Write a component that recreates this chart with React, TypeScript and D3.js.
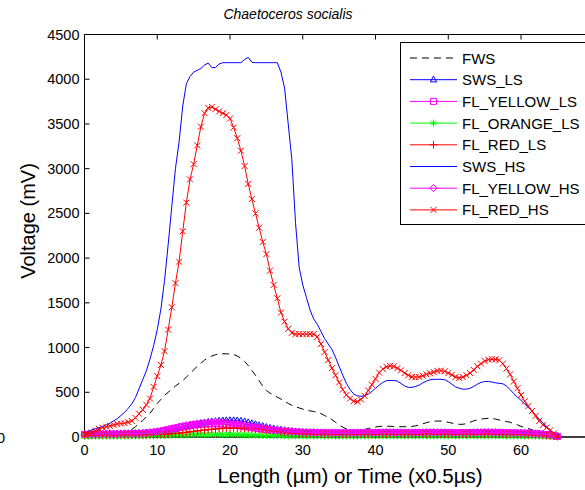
import React from 'react';
import * as d3 from 'd3';

// Sample positions along the particle (µm), every 0.5
const lengths: number[] = d3.range(0, 65.25, 0.5);

const xTickValues = [0, 10, 20, 30, 40, 50, 60, 70];
const xTickLabels = ['0', '10', '20', '30', '40', '50', '60', ''];
const yTickValues = [0, 500, 1000, 1500, 2000, 2500, 3000, 3500, 4000, 4500];
const titleText = 'Chaetoceros socialis';
const xLabel = 'Length (µm) or Time (x0.5µs)';
const yLabel = 'Voltage (mV)';

const FWS = [
  0, 5, 10, 12, 15, 18, 20, 25, 30,
  38, 45, 55, 65, 85, 115, 150, 185,
  225, 265, 320, 375, 420, 465, 500, 535,
  570, 600, 630, 670, 710, 750, 790, 825,
  860, 885, 905, 920, 928, 930, 930, 928,
  922, 905, 880, 845, 800, 745, 690, 630,
  570, 520, 490, 470, 445, 425, 400, 375,
  355, 338, 325, 312, 300, 292, 285, 278,
  262, 240, 220, 195, 165, 135, 110, 90,
  80, 75, 75, 78, 85, 95, 105, 112,
  118, 120, 120, 120, 118, 116, 115, 115,
  115, 118, 125, 135, 148, 160, 170, 176,
  179, 178, 172, 165, 155, 148, 142, 142,
  150, 165, 180, 192, 200, 206, 209, 208,
  200, 190, 180, 172, 165, 150, 135, 120,
  105, 95, 80, 65, 50, 38, 28, 18,
  10, 5,
];

const SWS_LS = [
  30, 32, 34, 35, 36, 36, 37, 37, 38,
  38, 39, 40, 40, 41, 42, 44, 46,
  48, 50, 53, 56, 60, 65, 72, 80,
  88, 97, 106, 115, 124, 133, 142, 150,
  158, 165, 171, 176, 180, 183, 185, 186,
  185, 183, 179, 172, 163, 152, 141, 130,
  120, 110, 101, 93, 86, 80, 74, 69,
  65, 61, 58, 56, 54, 53, 52, 51,
  50, 50, 49, 49, 48, 48, 48, 48,
  47, 47, 47, 48, 48, 49, 50, 50,
  51, 51, 52, 52, 52, 51, 51, 50,
  50, 50, 50, 51, 51, 52, 52, 52,
  52, 51, 51, 50, 50, 49, 49, 49,
  50, 50, 51, 52, 52, 53, 53, 52,
  52, 51, 50, 49, 48, 47, 46, 45,
  44, 43, 41, 39, 36, 32, 27, 22,
  15, 8,
];

const FL_YELLOW_LS = [
  25, 26, 27, 28, 28, 29, 29, 30, 30,
  31, 31, 32, 33, 34, 35, 37, 39,
  42, 46, 51, 57, 64, 72, 81, 90,
  99, 107, 115, 122, 128, 134, 138, 142,
  145, 147, 148, 148, 147, 145, 142, 138,
  134, 129, 124, 118, 112, 106, 100, 94,
  88, 83, 78, 73, 69, 65, 62, 59,
  56, 54, 52, 50, 49, 48, 47, 46,
  46, 45, 45, 45, 44, 44, 44, 44,
  44, 44, 45, 45, 46, 46, 47, 47,
  48, 48, 48, 48, 47, 47, 46, 46,
  46, 46, 47, 47, 48, 48, 49, 49,
  49, 48, 48, 47, 47, 46, 46, 46,
  47, 47, 48, 49, 49, 50, 50, 49,
  49, 48, 47, 46, 45, 44, 43, 42,
  41, 40, 38, 36, 33, 29, 25, 20,
  14, 7,
];

const FL_ORANGE_LS = [
  8, 8, 9, 9, 9, 10, 10, 10, 10,
  10, 10, 11, 11, 11, 12, 12, 13,
  13, 14, 15, 16, 17, 18, 19, 20,
  21, 22, 23, 24, 25, 25, 26, 26,
  27, 27, 27, 27, 27, 27, 26, 26,
  25, 25, 24, 23, 22, 21, 20, 19,
  18, 17, 16, 15, 15, 14, 14, 13,
  13, 13, 12, 12, 12, 12, 12, 12,
  12, 12, 12, 12, 12, 12, 12, 12,
  12, 12, 12, 12, 12, 13, 13, 13,
  13, 13, 13, 13, 13, 13, 13, 13,
  13, 13, 13, 13, 13, 13, 13, 13,
  13, 13, 13, 13, 13, 13, 13, 13,
  13, 13, 13, 13, 13, 13, 13, 13,
  13, 13, 12, 12, 12, 12, 12, 12,
  11, 11, 11, 10, 10, 9, 8, 7,
  6, 5,
];

const FL_RED_LS = [
  20, 20, 21, 21, 21, 22, 22, 22, 22,
  22, 23, 23, 23, 23, 24, 24, 24,
  25, 25, 26, 27, 28, 30, 33, 36,
  40, 44, 48, 53, 58, 63, 68, 73,
  78, 82, 86, 90, 93, 96, 98, 99,
  100, 100, 99, 98, 96, 93, 90, 86,
  82, 77, 72, 67, 62, 57, 52, 48,
  44, 41, 38, 36, 34, 33, 32, 31,
  30, 30, 29, 29, 29, 28, 28, 28,
  28, 28, 28, 29, 29, 29, 30, 30,
  30, 30, 30, 30, 30, 30, 30, 30,
  30, 30, 30, 30, 31, 31, 31, 31,
  31, 31, 31, 30, 30, 30, 30, 30,
  30, 31, 31, 31, 32, 32, 32, 32,
  32, 31, 31, 30, 30, 29, 29, 28,
  27, 26, 25, 23, 21, 18, 15, 12,
  9, 5,
];

const SWS_HS = [
  40, 60, 80, 95, 105, 120, 135, 155, 180,
  205, 240, 275, 320, 370, 440, 540, 640,
  740, 870, 1020, 1200, 1430, 1750, 2150, 2580,
  3000, 3300, 3700, 3950, 4030, 4080, 4100, 4120,
  4160, 4180, 4130, 4130, 4170, 4185, 4185, 4185,
  4185, 4185, 4185, 4220, 4245, 4190, 4185, 4185,
  4185, 4185, 4185, 4185, 4185, 4080, 3900, 3500,
  3100, 2400, 1900, 1700, 1560, 1420, 1320, 1260,
  1180, 1100, 1040, 980, 890, 790, 690, 600,
  530, 480, 460, 455, 460, 480, 510, 545,
  580, 610, 630, 632, 632, 625, 600, 570,
  555, 555, 565, 580, 605, 625, 640, 645,
  645, 645, 640, 620, 590, 560, 545, 535,
  535, 545, 565, 590, 610, 620, 620, 615,
  605, 600, 595, 570, 530, 485, 445, 410,
  370, 330, 290, 245, 200, 160, 120, 80,
  40, 10,
];

const FL_YELLOW_HS = [
  30, 31, 32, 33, 33, 34, 34, 35, 35,
  36, 36, 37, 38, 39, 40, 42, 44,
  47, 51, 56, 62, 69, 77, 86, 96,
  106, 115, 124, 132, 139, 146, 152, 157,
  161, 164, 166, 166, 165, 163, 160, 156,
  151, 146, 140, 134, 127, 120, 113, 106,
  99, 93, 87, 81, 76, 71, 67, 63,
  60, 57, 55, 53, 51, 50, 49, 48,
  48, 47, 47, 47, 46, 46, 46, 46,
  46, 46, 47, 47, 48, 48, 49, 49,
  50, 50, 50, 50, 49, 49, 48, 48,
  48, 48, 49, 49, 50, 50, 51, 51,
  51, 50, 50, 49, 49, 48, 48, 48,
  49, 49, 50, 51, 51, 52, 52, 51,
  51, 50, 49, 48, 47, 46, 45, 44,
  43, 42, 40, 38, 35, 31, 27, 22,
  16, 9,
];

const FL_RED_HS = [
  30, 40, 50, 70, 90, 105, 115, 125, 135,
  145, 150, 155, 165, 180, 215, 260, 305,
  360, 430, 560, 680, 805, 960, 1200, 1450,
  1720, 1960, 2300, 2620, 2880, 3050, 3260, 3470,
  3620, 3680, 3690, 3665, 3640, 3620, 3600, 3560,
  3460, 3340, 3200, 3030, 2830, 2660, 2500, 2340,
  2180, 2045, 1860, 1700, 1550, 1390, 1290, 1210,
  1165, 1150, 1150, 1150, 1150, 1150, 1150, 1120,
  1040, 950, 860, 770, 690, 610, 530, 470,
  430, 400, 395, 420, 460, 520, 585, 650,
  720, 760, 785, 795, 790, 770, 745, 715,
  690, 672, 670, 672, 685, 700, 712, 725,
  738, 742, 735, 715, 695, 670, 660, 670,
  690, 715, 750, 790, 820, 850, 865, 870,
  868, 858, 820, 765, 700, 620, 545, 470,
  400, 345, 290, 235, 180, 135, 105, 75,
  40, 5,
];

type Marker = 'none' | 'triangle' | 'square' | 'asterisk' | 'plus' | 'diamond' | 'x';

const seriesNames = ['FWS', 'SWS_LS', 'FL_YELLOW_LS', 'FL_ORANGE_LS', 'FL_RED_LS', 'SWS_HS', 'FL_YELLOW_HS', 'FL_RED_HS'];
const seriesValues = [FWS, SWS_LS, FL_YELLOW_LS, FL_ORANGE_LS, FL_RED_LS, SWS_HS, FL_YELLOW_HS, FL_RED_HS];
const seriesColors = ['#000000', '#0000ff', '#ff00ff', '#00ff00', '#ff0000', '#0000ff', '#ff00ff', '#ff0000'];
const seriesMarkers: Marker[] = ['none', 'triangle', 'square', 'asterisk', 'plus', 'none', 'diamond', 'x'];
const seriesDashed = [true, false, false, false, false, false, false, false];

const W = 585;
const H = 490;
const plotLeft = 84.5;
const plotTop = 34.5;
const plotBottom = 437;
const plotRight = 593.8;

const FONT = "Arial, 'Liberation Sans', Helvetica, sans-serif";

function markerPath(m: Marker): string {
  switch (m) {
    case 'triangle':
      return 'M0,-3.6L3.2,2.2L-3.2,2.2Z';
    case 'square':
      return 'M-3,-3H3V3H-3Z';
    case 'asterisk':
      return 'M-3.5,0H3.5M0,-3.5V3.5M-2.5,-2.5L2.5,2.5M-2.5,2.5L2.5,-2.5';
    case 'plus':
      return 'M-3.8,0H3.8M0,-3.8V3.8';
    case 'diamond':
      return 'M0,-3.6L3.6,0L0,3.6L-3.6,0Z';
    case 'x':
      return 'M-3,-3L3,3M-3,3L3,-3';
    default:
      return '';
  }
}

export default function App() {
  const x = d3.scaleLinear().domain([0, 70]).range([plotLeft, plotRight]);
  const y = d3.scaleLinear().domain([0, 4500]).range([plotBottom, plotTop]);

  const line = d3
    .line<[number, number]>()
    .x((d) => x(d[0]))
    .y((d) => y(d[1]));

  const legendX = 400.5;
  const legendTop = 42.5;
  const legendBottom = 224.5;
  const legendRow0 = 58;
  const legendStep = 21.7;

  return (
    <svg
      width={W}
      height={H}
      style={{ position: 'absolute', left: 0, top: 0, background: '#fff' }}
      fontFamily={FONT}
    >
      <rect x={0} y={0} width={W} height={H} fill="#fff" />

      {/* title */}
      <text x={288} y={19} fontSize={14} fontStyle="italic" textAnchor="middle" fill="#000">
        {titleText}
      </text>

      {/* frame */}
      <line x1={plotLeft} x2={plotRight + 10} y1={plotTop} y2={plotTop} stroke="#000" strokeWidth={1} />
      <line x1={plotLeft} x2={plotLeft} y1={plotTop} y2={plotBottom} stroke="#000" strokeWidth={1} />
      <line x1={plotLeft} x2={plotRight + 10} y1={plotBottom} y2={plotBottom} stroke="#000" strokeWidth={1.3} />

      {/* y ticks */}
      {yTickValues.map((t) => (
        <g key={'y' + t}>
          <line x1={plotLeft} x2={plotLeft + 5} y1={y(t)} y2={y(t)} stroke="#000" />
          <text x={79.5} y={y(t) + 5} fontSize={14.5} textAnchor="end" fill="#000">
            {t}
          </text>
        </g>
      ))}

      {/* x ticks */}
      {xTickValues.map((t, i) => (
        <g key={'x' + t}>
          <line x1={x(t)} x2={x(t)} y1={plotBottom} y2={plotBottom - 5} stroke="#000" />
          <line x1={x(t)} x2={x(t)} y1={plotTop} y2={plotTop + 5} stroke="#000" />
          {xTickLabels[i] !== '' && (
            <text x={x(t)} y={455} fontSize={14.5} textAnchor="middle" fill="#000">
              {xTickLabels[i]}
            </text>
          )}
        </g>
      ))}

      {/* series */}
      {seriesNames.map((name, i) => {
        const pts: [number, number][] = lengths.map((l, j) => [l, seriesValues[i][j]]);
        const mk = seriesMarkers[i];
        return (
          <g key={name}>
            <path
              d={line(pts) || ''}
              fill="none"
              stroke={seriesColors[i]}
              strokeWidth={1}
              strokeDasharray={seriesDashed[i] ? '7,5' : undefined}
            />
            {mk !== 'none' &&
              pts.map((p, j) => (
                <path
                  key={j}
                  d={markerPath(mk)}
                  transform={`translate(${x(p[0])},${y(p[1])})`}
                  fill="none"
                  stroke={seriesColors[i]}
                  strokeWidth={1}
                />
              ))}
          </g>
        );
      })}

      {/* axis labels */}
      <text x={350} y={483} fontSize={20.5} textAnchor="middle" fill="#000">
        {xLabel}
      </text>
      <text
        transform={`translate(35,221) rotate(-90)`}
        fontSize={20}
        textAnchor="middle"
        fill="#000"
      >
        {yLabel}
      </text>
      <text x={5} y={443} fontSize={14.5} textAnchor="end" fill="#000">
        0
      </text>

      {/* legend */}
      <rect
        x={legendX}
        y={legendTop}
        width={W + 20 - legendX}
        height={legendBottom - legendTop}
        fill="#fff"
        stroke="#000"
        strokeWidth={1}
      />
      {seriesNames.map((name, i) => {
        const ry = legendRow0 + i * legendStep;
        const mk = seriesMarkers[i];
        return (
          <g key={'lg' + name}>
            <line
              x1={410}
              x2={457}
              y1={ry}
              y2={ry}
              stroke={seriesColors[i]}
              strokeWidth={1}
              strokeDasharray={seriesDashed[i] ? '7,5' : undefined}
            />
            {mk !== 'none' && (
              <path
                d={markerPath(mk)}
                transform={`translate(433.5,${ry})`}
                fill="none"
                stroke={seriesColors[i]}
                strokeWidth={1}
              />
            )}
            <text x={462} y={ry + 5.5} fontSize={15} fill="#000">
              {name}
            </text>
          </g>
        );
      })}
    </svg>
  );
}
